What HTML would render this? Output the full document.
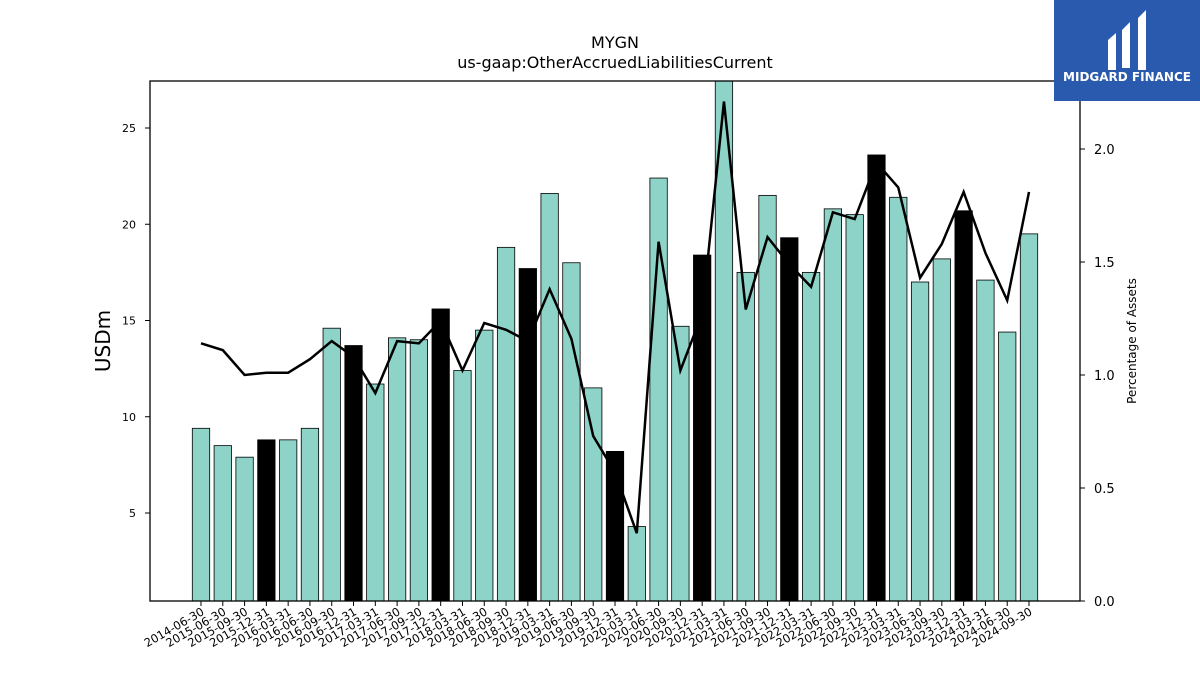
<!DOCTYPE html>
<html><head><meta charset="utf-8"><style>
body{margin:0;background:#fff;font-family:"Liberation Sans","DejaVu Sans",sans-serif}
svg text{font-family:"DejaVu Sans","Liberation Sans",sans-serif}
</style></head><body>
<svg id="c" width="1200" height="675" viewBox="0 0 1200 675">
<text x="615" y="48" text-anchor="middle" font-size="16">MYGN</text>
<text x="615" y="68" text-anchor="middle" font-size="16">us-gaap:OtherAccruedLiabilitiesCurrent</text>
<g id="bars"></g><g id="line"></g><g id="axes"></g>
<rect x="150" y="81" width="930" height="520" fill="none" stroke="#000" stroke-width="1.3"/>
<text transform="translate(110,341) rotate(-90)" text-anchor="middle" font-size="20">USDm</text>
<text transform="translate(1136,341) rotate(-90)" text-anchor="middle" font-size="12">Percentage of Assets</text>
<g>
<rect x="1054" y="0" width="146" height="101" fill="#2a5aae"/>
<path d="M1108 40 L1116 33 L1116 70 L1108 70 Z M1122 30 L1130 22 L1130 68 L1122 68 Z M1138 18 L1146 10 L1146 70 L1138 70 Z" fill="#fff"/>
<text x="1127" y="81" text-anchor="middle" font-size="12" font-weight="bold" fill="#fff">MIDGARD FINANCE</text>
</g>
</svg>
<script>
const categories=["2014-06-30","2015-06-30","2015-09-30","2015-12-31","2016-03-31","2016-06-30","2016-09-30","2016-12-31","2017-03-31","2017-06-30","2017-09-30","2017-12-31","2018-03-31","2018-06-30","2018-09-30","2018-12-31","2019-03-31","2019-06-30","2019-09-30","2019-12-31","2020-03-31","2020-06-30","2020-09-30","2020-12-31","2021-03-31","2021-06-30","2021-09-30","2021-12-31","2022-03-31","2022-06-30","2022-09-30","2022-12-31","2023-03-31","2023-06-30","2023-09-30","2023-12-31","2024-03-31","2024-06-30","2024-09-30"];
const values=[9.4,8.5,7.9,8.8,8.8,9.4,14.6,13.7,11.7,14.1,14.0,15.6,12.4,14.5,18.8,17.7,21.6,18.0,11.5,8.2,4.3,22.4,14.7,18.4,28.0,17.5,21.5,19.3,17.5,20.8,20.5,23.6,21.4,17.0,18.2,20.7,17.1,14.4,19.5];
const pct=[1.14,1.11,1.00,1.01,1.01,1.07,1.15,1.08,0.92,1.15,1.14,1.24,1.02,1.23,1.20,1.15,1.38,1.16,0.73,0.57,0.30,1.59,1.02,1.27,2.21,1.29,1.61,1.49,1.39,1.72,1.69,1.94,1.83,1.43,1.58,1.81,1.54,1.33,1.81];
const leftTicks=[5,10,15,20,25];
const rightTicks=[0.0,0.5,1.0,1.5,2.0];
const NS="http://www.w3.org/2000/svg";
const X0=150,X1=1080,Y0=81,Y1=601;
const step=(1029-201)/(categories.length-1);
const x=i=>201+i*step;
const y=v=>Math.max(Y0,609.25-v*19.25);
const y2=v=>601-v*226;
function mk(t,a,p){const e=document.createElementNS(NS,t);for(const k in a)e.setAttribute(k,a[k]);p.appendChild(e);return e;}
const bg=document.getElementById('bars');
values.forEach((v,i)=>{
 const r=mk('rect',{x:x(i)-8.7,y:y(v),width:17.4,height:Y1-y(v),fill:(i%4===3)?'#000':'#8dd3c7',stroke:'#000','stroke-width':0.8},bg);
 
 
});
const lg=document.getElementById('line');
const pl=mk('polyline',{points:pct.map((p,i)=>x(i)+','+y2(p)).join(' '),fill:'none',stroke:'#000','stroke-width':2.5},lg);


const ax=document.getElementById('axes');
leftTicks.forEach(t=>{
 const yy=y(t);
 mk('line',{x1:145,x2:150,y1:yy,y2:yy,stroke:'#000'},ax);
 const tx=mk('text',{x:136,y:yy+4,'text-anchor':'end','font-size':11},ax);tx.textContent=t;
 
 
});
rightTicks.forEach(t=>{
 const yy=y2(t);
 mk('line',{x1:1080,x2:1085,y1:yy,y2:yy,stroke:'#000'},ax);
 const tx=mk('text',{x:1094,y:yy+5,'font-size':13},ax);tx.textContent=t.toFixed(1);
 
 
});
categories.forEach((c,i)=>{
 const xx=x(i);
 mk('line',{x1:xx,x2:xx,y1:601,y2:606,stroke:'#000'},ax);
 const tx=mk('text',{transform:`translate(${xx+4},${614}) rotate(-30)`,'text-anchor':'end','font-size':11.5},ax);tx.textContent=c;
 
 
});
</script>
</body></html>
